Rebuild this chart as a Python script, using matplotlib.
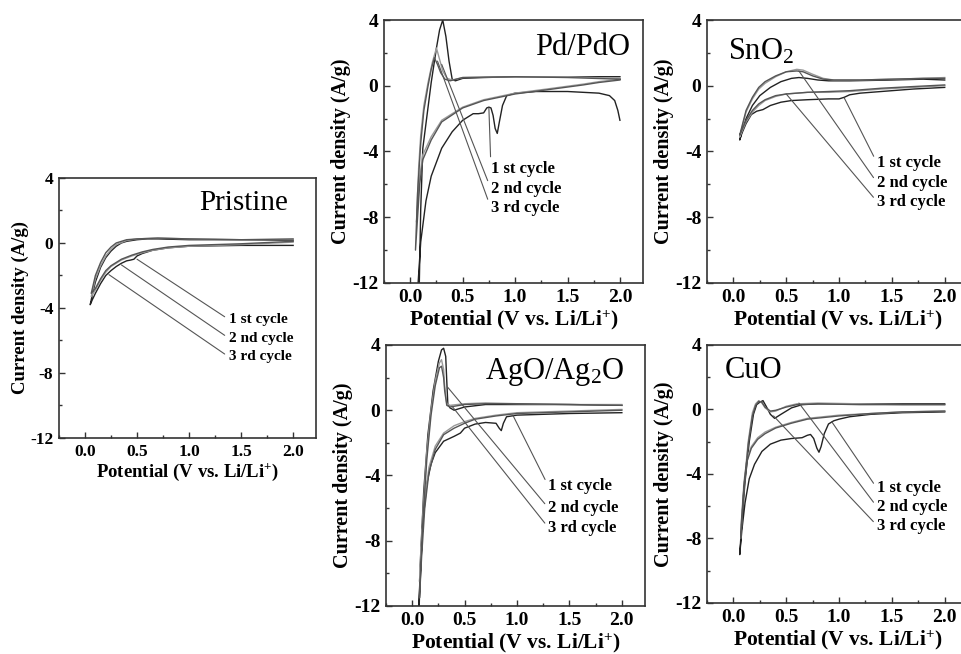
import matplotlib
matplotlib.use("Agg")
import matplotlib.pyplot as plt
from matplotlib.ticker import MultipleLocator

# ---- data (V vs Li/Li+, A/g), each list is one full CV loop ----
pristine_c1_v = [2.0, 1.5, 1.0, 0.8, 0.65, 0.55, 0.5, 0.47, 0.44, 0.4, 0.35, 0.3, 0.25, 0.2, 0.15, 0.1, 0.07, 0.05,
                 0.07, 0.1, 0.15, 0.2, 0.25, 0.3, 0.35, 0.4, 0.5, 0.6, 0.7, 1.0, 1.5, 2.0]
pristine_c1_i = [-0.15, -0.15, -0.2, -0.3, -0.45, -0.65, -0.8, -1.0, -1.05, -1.1, -1.25, -1.45, -1.7, -2.0, -2.5, -3.1, -3.5, -3.8,
                 -3.2, -2.4, -1.5, -0.9, -0.5, -0.2, 0.0, 0.1, 0.2, 0.25, 0.25, 0.2, 0.2, 0.15]
pristine_c2_v = [2.0, 1.5, 1.0, 0.8, 0.65, 0.55, 0.45, 0.35, 0.25, 0.2, 0.15, 0.1, 0.06,
                 0.1, 0.15, 0.2, 0.25, 0.3, 0.4, 0.5, 0.7, 1.0, 1.5, 2.0]
pristine_c2_i = [0.05, -0.1, -0.2, -0.3, -0.45, -0.6, -0.8, -1.05, -1.45, -1.8, -2.3, -2.9, -3.3,
                 -2.2, -1.4, -0.8, -0.4, -0.1, 0.15, 0.25, 0.3, 0.25, 0.2, 0.2]
pristine_c3_v = pristine_c2_v
pristine_c3_i = [0.1, -0.05, -0.15, -0.25, -0.4, -0.55, -0.75, -1.0, -1.4, -1.7, -2.2, -2.8, -3.1,
                 -2.0, -1.2, -0.6, -0.25, 0.0, 0.2, 0.25, 0.3, 0.25, 0.2, 0.25]

pd_c1_v = [2.0, 1.98, 1.95, 1.9, 1.8, 1.5, 1.2, 1.0, 0.92, 0.88, 0.85, 0.83, 0.81, 0.79, 0.77, 0.75, 0.73, 0.7,
           0.65, 0.6, 0.5, 0.4, 0.3, 0.2, 0.15, 0.1, 0.07,
           0.085, 0.1, 0.12, 0.16, 0.2, 0.25, 0.28, 0.31, 0.34, 0.37, 0.4, 0.43, 0.5, 0.7, 1.0, 1.5, 2.0]
pd_c1_i = [-2.1, -1.5, -0.9, -0.6, -0.45, -0.35, -0.35, -0.45, -0.6, -1.2, -2.2, -2.9, -2.6, -1.8, -1.35, -1.3, -1.35, -1.65,
           -1.7, -1.7, -2.1, -2.8, -3.8, -5.5, -7.0, -9.5, -12.5,
           -12.5, -7.5, -3.8, -1.8, 0.2, 2.3, 3.4, 4.0, 3.0, 1.5, 0.4, 0.3, 0.45, 0.5, 0.55, 0.55, 0.55]
pd_c2_v = [2.0, 1.8, 1.65, 1.3, 1.0, 0.7, 0.5, 0.3, 0.2, 0.12, 0.09, 0.06,
           0.08, 0.1, 0.13, 0.17, 0.21, 0.25, 0.28, 0.31, 0.35, 0.4, 0.5, 1.0, 1.5, 2.0]
pd_c2_i = [0.4, 0.25, 0.1, -0.2, -0.45, -0.85, -1.3, -2.1, -3.1, -4.2, -5.5, -8.3,
           -5.0, -3.0, -1.2, 0.2, 1.4, 2.3, 1.6, 0.9, 0.45, 0.35, 0.5, 0.55, 0.55, 0.45]
pd_c3_v = [2.0, 1.8, 1.65, 1.3, 1.0, 0.7, 0.5, 0.3, 0.2, 0.12, 0.09, 0.05,
           0.07, 0.1, 0.13, 0.17, 0.2, 0.23, 0.26, 0.29, 0.33, 0.38, 0.5, 1.0, 1.5, 2.0]
pd_c3_i = [0.35, 0.2, 0.05, -0.25, -0.5, -0.9, -1.35, -2.2, -3.3, -4.5, -6.0, -10.0,
           -6.5, -3.5, -1.5, 0.0, 1.0, 1.7, 1.3, 0.8, 0.4, 0.3, 0.5, 0.55, 0.5, 0.4]

sno2_c1_v = [2.0, 1.7, 1.4, 1.2, 1.1, 1.05, 1.0, 0.9, 0.7, 0.55, 0.45, 0.35, 0.28, 0.22, 0.17, 0.12, 0.08, 0.06,
             0.08, 0.12, 0.18, 0.25, 0.35, 0.45, 0.55, 0.62, 0.7, 0.8, 0.9, 1.1, 1.5, 1.8, 2.0]
sno2_c1_i = [-0.1, -0.2, -0.35, -0.45, -0.55, -0.7, -0.8, -0.8, -0.85, -0.9, -1.0, -1.2, -1.45, -1.55, -1.75, -2.3, -2.9, -3.3,
             -2.8, -2.0, -1.2, -0.6, -0.1, 0.25, 0.45, 0.5, 0.45, 0.35, 0.3, 0.3, 0.35, 0.4, 0.35]
sno2_c2_v = [2.0, 1.7, 1.4, 1.1, 0.9, 0.7, 0.5, 0.4, 0.3, 0.24, 0.18, 0.12, 0.08, 0.06,
             0.08, 0.12, 0.18, 0.24, 0.3, 0.4, 0.5, 0.6, 0.66, 0.75, 0.85, 0.95, 1.2, 1.5, 1.8, 2.0]
sno2_c2_i = [0.0, -0.1, -0.2, -0.35, -0.4, -0.4, -0.5, -0.65, -0.9, -1.2, -1.6, -2.2, -2.8, -3.1,
             -2.6, -1.6, -0.8, -0.2, 0.15, 0.55, 0.85, 1.0, 0.95, 0.7, 0.45, 0.35, 0.35, 0.4, 0.45, 0.5]
sno2_c3_v = sno2_c2_v
sno2_c3_i = [0.05, -0.05, -0.15, -0.3, -0.35, -0.4, -0.5, -0.6, -0.85, -1.1, -1.5, -2.1, -2.7, -3.0,
             -2.5, -1.5, -0.7, -0.1, 0.25, 0.6, 0.85, 0.9, 0.85, 0.6, 0.4, 0.35, 0.35, 0.4, 0.45, 0.45]

ago_c1_v = [2.0, 1.5, 1.0, 0.9, 0.87, 0.85, 0.83, 0.8, 0.7, 0.6, 0.5, 0.46, 0.4, 0.3, 0.22, 0.18, 0.14, 0.1, 0.08, 0.06,
            0.065, 0.08, 0.11, 0.15, 0.2, 0.25, 0.28, 0.3, 0.32, 0.33, 0.34, 0.36, 0.4, 0.5, 0.7, 1.0, 1.5, 2.0]
ago_c1_i = [-0.15, -0.2, -0.3, -0.4, -0.8, -1.25, -1.1, -0.8, -0.75, -0.85, -1.1, -1.4, -1.6, -1.9, -2.6, -3.3, -4.5, -7.0, -9.5, -12.5,
            -12.5, -9.0, -5.0, -1.5, 1.2, 3.0, 3.7, 3.8, 3.3, 1.8, 0.4, 0.15, 0.0, 0.2, 0.35, 0.35, 0.35, 0.3]
ago_c2_v = [2.0, 1.5, 1.0, 0.8, 0.6, 0.5, 0.4, 0.3, 0.22, 0.16, 0.12, 0.09, 0.07,
            0.07, 0.1, 0.14, 0.18, 0.22, 0.26, 0.28, 0.3, 0.31, 0.33, 0.36, 0.5, 0.7, 1.0, 1.5, 2.0]
ago_c2_i = [0.05, -0.05, -0.15, -0.3, -0.5, -0.7, -0.95, -1.4, -2.2, -3.5, -5.5, -8.0, -10.5,
            -10.5, -6.5, -2.5, 0.0, 1.8, 2.9, 3.1, 2.5, 1.5, 0.4, 0.3, 0.4, 0.45, 0.4, 0.35, 0.35]
ago_c3_v = ago_c2_v
ago_c3_i = [0.0, -0.1, -0.2, -0.35, -0.55, -0.8, -1.1, -1.5, -2.4, -3.8, -6.0, -9.0, -11.5,
            -11.5, -7.0, -3.0, -0.3, 1.5, 2.6, 2.7, 2.0, 1.2, 0.3, 0.2, 0.35, 0.4, 0.4, 0.35, 0.3]

cuo_c1_v = [2.0, 1.6, 1.3, 1.1, 1.0, 0.95, 0.9, 0.86, 0.83, 0.81, 0.79, 0.76, 0.73, 0.7, 0.65, 0.55, 0.45, 0.35,
            0.27, 0.2, 0.15, 0.11, 0.08, 0.06,
            0.06, 0.08, 0.11, 0.15, 0.19, 0.22, 0.25, 0.28, 0.31, 0.35, 0.39, 0.45, 0.55, 0.65, 0.8, 1.0, 1.5, 2.0]
cuo_c1_i = [-0.15, -0.2, -0.3, -0.45, -0.6, -0.7, -0.9, -1.5, -2.3, -2.65, -2.4, -1.8, -1.55, -1.6, -1.75, -1.8, -1.9, -2.15,
            -2.6, -3.4, -4.3, -5.8, -7.5, -9.0,
            -9.0, -7.0, -4.5, -2.0, -0.3, 0.3, 0.45, 0.55, 0.2, -0.3, -0.55, -0.3, 0.1, 0.3, 0.35, 0.35, 0.35, 0.35]
cuo_c2_v = [2.0, 1.6, 1.3, 1.0, 0.85, 0.7, 0.55, 0.4, 0.3, 0.23, 0.17, 0.13, 0.1, 0.07,
            0.07, 0.1, 0.14, 0.18, 0.21, 0.24, 0.27, 0.3, 0.35, 0.4, 0.5, 0.6, 0.8, 1.2, 1.6, 2.0]
cuo_c2_i = [-0.1, -0.15, -0.25, -0.35, -0.45, -0.55, -0.8, -1.1, -1.4, -1.75, -2.3, -3.0, -4.5, -7.5,
            -7.5, -4.8, -2.0, -0.2, 0.35, 0.55, 0.4, 0.1, -0.15, -0.1, 0.2, 0.35, 0.4, 0.35, 0.3, 0.3]
cuo_c3_v = cuo_c2_v
cuo_c3_i = [-0.1, -0.15, -0.25, -0.4, -0.5, -0.6, -0.85, -1.15, -1.5, -1.85, -2.4, -3.2, -4.8, -8.0,
            -8.0, -5.0, -2.2, -0.4, 0.25, 0.5, 0.45, 0.15, -0.1, -0.05, 0.15, 0.3, 0.35, 0.3, 0.3, 0.3]

cycle_labels = ["1 st cycle", "2 nd cycle", "3 rd cycle"]
cycle_colors = ["#222222", "#9a9a9a", "#555555"]

# where the leader lines touch the curves, and where the labels sit (data coords)
pristine_leader = [(0.5, -1.0), (0.35, -1.35), (0.23, -1.95)]
pristine_text = [(1.38, -4.7), (1.38, -5.85), (1.38, -7.0)]
pd_leader = [(0.75, -1.35), (0.3, 1.3), (0.26, 1.5)]
pd_text = [(0.77, -5.06), (0.77, -6.28), (0.77, -7.45)]
sno2_leader = [(1.05, -0.75), (0.62, 0.9), (0.5, -0.5)]
sno2_text = [(1.36, -4.7), (1.36, -5.9), (1.36, -7.05)]
ago_leader = [(0.96, -0.3), (0.34, 1.4), (0.38, 0.25)]
ago_text = [(1.3, -4.66), (1.3, -6.0), (1.3, -7.2)]
cuo_leader = [(0.93, -0.75), (0.62, 0.4), (0.38, -0.4)]
cuo_text = [(1.36, -4.9), (1.36, -6.05), (1.36, -7.2)]


def draw_panel(ax, cycles, leaders, texts, name, name_xy, name_ha, fs):
    # fs: (ticks, xlabel, ylabel, cycle labels, panel name)
    for (v, i), c in zip(cycles, cycle_colors):
        ax.plot(v, i, color=c, lw=1.0)
    for lab, p, t in zip(cycle_labels, leaders, texts):
        ax.annotate(lab, xy=p, xytext=t, fontsize=fs[3], fontweight="bold", ha="left", va="center",
                    arrowprops=dict(arrowstyle="-", color="#555555", lw=0.8, shrinkA=1, shrinkB=0,
                                    relpos=(0, 0.5)))
    ax.text(name_xy[0], name_xy[1], name, transform=ax.transAxes, fontsize=fs[4], ha=name_ha, va="center")
    ax.set_xlim(-0.25, 2.22)
    ax.set_ylim(-12, 4)
    ax.xaxis.set_minor_locator(MultipleLocator(0.25))
    ax.yaxis.set_minor_locator(MultipleLocator(2))
    ax.set_xticks([0.0, 0.5, 1.0, 1.5, 2.0])
    ax.set_xticklabels(["0.0", "0.5", "1.0", "1.5", "2.0"])
    ax.set_yticks([4, 0, -4, -8, -12])
    ax.set_yticklabels(["4", "0", "-4", "-8", "-12"])
    ax.tick_params(which="both", direction="in", top=False, right=False, labelsize=fs[0], width=1.0,
                   color="#333333", pad=4)
    ax.tick_params(which="major", length=4)
    ax.tick_params(which="minor", length=2.5)
    for lab in ax.get_xticklabels() + ax.get_yticklabels():
        lab.set_fontweight("bold")
    for s in ax.spines.values():
        s.set_color("#333333")
        s.set_linewidth(1.2)
    ax.set_xlabel("Potential (V vs. Li/Li$^{\\mathbf{+}}$)", fontsize=fs[1], fontweight="bold", labelpad=2)
    ax.set_ylabel("Current density (A/g)", fontsize=fs[2], fontweight="bold", labelpad=1)


def main():
    plt.rcParams["font.family"] = ["Liberation Serif", "DejaVu Serif"]
    plt.rcParams["mathtext.fontset"] = "custom"
    plt.rcParams["mathtext.rm"] = "Liberation Serif"
    plt.rcParams["mathtext.bf"] = "Liberation Serif:bold"
    plt.rcParams["mathtext.default"] = "regular"

    small = (12.5, 13.5, 13.5, 11, 21)
    big = (14, 15.5, 14.5, 12, 22)

    fig = plt.figure(figsize=(9.62, 6.54), dpi=100)

    ax = fig.add_axes([0.0613, 0.3303, 0.2672, 0.3976])
    draw_panel(ax, [(pristine_c1_v, pristine_c1_i), (pristine_c2_v, pristine_c2_i), (pristine_c3_v, pristine_c3_i)],
               pristine_leader, pristine_text, "Pristine", (0.89, 0.905), "right", small)

    ax = fig.add_axes([0.3992, 0.5673, 0.2692, 0.4021])
    draw_panel(ax, [(pd_c1_v, pd_c1_i), (pd_c2_v, pd_c2_i), (pd_c3_v, pd_c3_i)],
               pd_leader, pd_text, "Pd/PdO", (0.95, 0.897), "right", big)

    ax = fig.add_axes([0.7349, 0.5673, 0.2713, 0.4021])
    draw_panel(ax, [(sno2_c1_v, sno2_c1_i), (sno2_c2_v, sno2_c2_i), (sno2_c3_v, sno2_c3_i)],
               sno2_leader, sno2_text, "SnO$_2$", (0.08, 0.88), "left", big)

    ax = fig.add_axes([0.4012, 0.0734, 0.2692, 0.3991])
    draw_panel(ax, [(ago_c1_v, ago_c1_i), (ago_c2_v, ago_c2_i), (ago_c3_v, ago_c3_i)],
               ago_leader, ago_text, "AgO/Ag$_2$O", (0.92, 0.897), "right", big)

    ax = fig.add_axes([0.7349, 0.078, 0.2713, 0.3945])
    draw_panel(ax, [(cuo_c1_v, cuo_c1_i), (cuo_c2_v, cuo_c2_i), (cuo_c3_v, cuo_c3_i)],
               cuo_leader, cuo_text, "CuO", (0.07, 0.90), "left", big)

    fig.savefig("out.png", dpi=100)


if __name__ == "__main__":
    main()
